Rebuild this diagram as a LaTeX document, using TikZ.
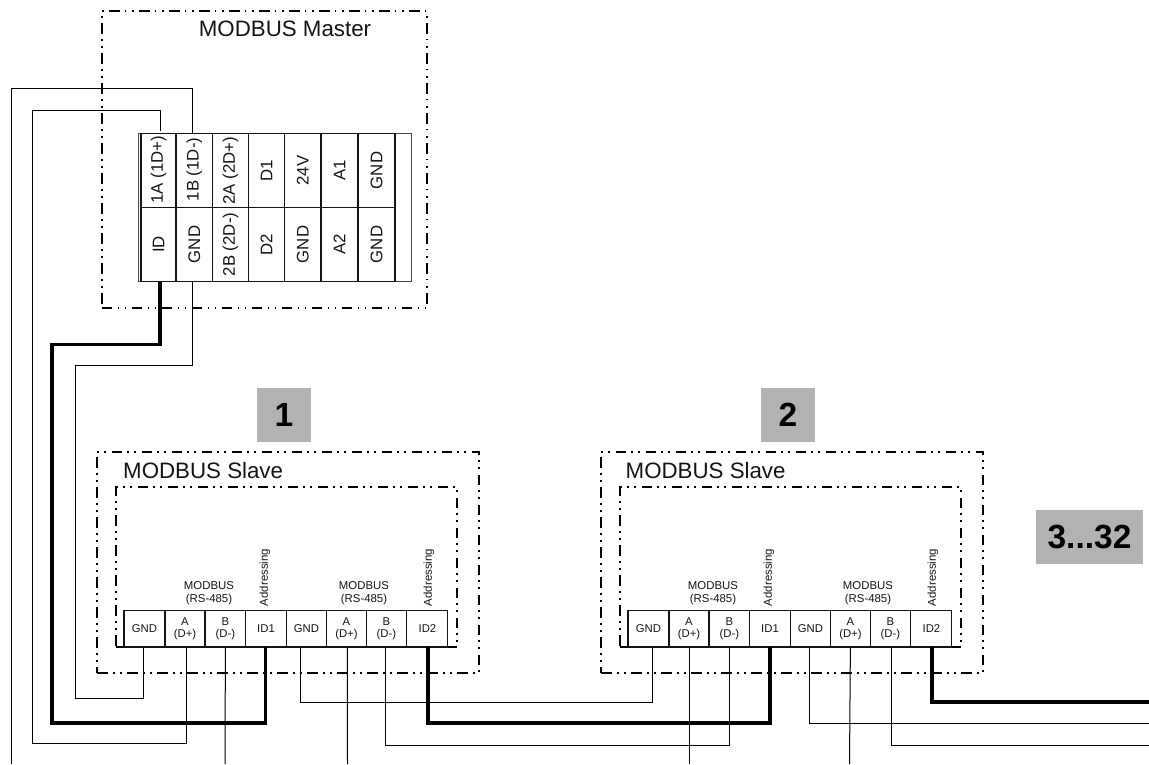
\documentclass[tikz,border=0pt]{standalone}
\usepackage{fontspec}
\usepackage{graphicx}
\setmainfont{Liberation Sans}
\definecolor{inkk}{HTML}{141414}
\definecolor{greybox}{HTML}{B2B2B2}
\definecolor{blockline}{HTML}{444444}
\tikzset{
  frameline/.style={draw=black,line width=2pt,dash pattern=on 10.5pt off 5.5pt on 1.6pt off 5.5pt on 1.6pt off 5.3pt,inner sep=0pt,outer sep=0pt},
  mcell/.style={draw=inkk,line width=1.1pt,inner sep=0pt,outer sep=0pt,minimum height=74pt,font=\fontsize{16.8}{16.8}\selectfont,text=inkk},
  scell/.style={draw=inkk,line width=1.1pt,inner sep=0pt,outer sep=0pt,minimum height=36.5pt,font=\fontsize{11.3}{12.8}\selectfont,align=center,text=inkk},
  small/.style={inner sep=0pt,font=\fontsize{11.4}{13}\selectfont,align=center,text=inkk},
  title/.style={inner sep=0pt,font=\fontsize{22.3}{24}\selectfont,text=inkk},
  badge/.style={fill=greybox,inner sep=0pt,font=\bfseries\fontsize{33.5}{33.5}\selectfont,text=black},
  wire/.style={draw=black,line width=1pt},
  buswire/.style={draw=black,line width=3.6pt,line cap=butt,line join=miter},
}
\newcommand{\rb}[1]{\rotatebox{90}{#1}}
\newcommand{\rbup}[1]{\raisebox{2pt}{\rotatebox{90}{#1}}}
\begin{document}
\begin{tikzpicture}[x=1pt,y=-1pt]
\useasboundingbox (0,0) rectangle (1149,764);
% frames
\node[frameline,minimum width=325.5pt,minimum height=297pt] (mframe) at (264.25,159.5) {};
\node[frameline,minimum width=382pt,minimum height=221pt] (s1outer) at (288,562.5) {};
\node[frameline,minimum width=341pt,minimum height=160pt] (s1inner) at (286.5,567) {};
\node[frameline,minimum width=382pt,minimum height=221pt] (s2outer) at (792,562.5) {};
\node[frameline,minimum width=341pt,minimum height=160pt] (s2inner) at (790.5,567) {};
% titles
\node[title,anchor=base] (mtitle) at (285,36) {MODBUS Master};
\node[title,anchor=base west] (s1title) at (123,478) {MODBUS Slave};
\node[title,anchor=base west] (s2title) at (625.5,478) {MODBUS Slave};
% badges
\node[badge,minimum width=54pt,minimum height=54pt] (b1) at (284,415) {1};
\node[badge,minimum width=54pt,minimum height=54pt] (b2) at (788,415) {2};
\node[badge,minimum width=107pt,minimum height=54pt] (b3) at (1089.5,537) {3...32};
% master block
\node[draw=blockline,line width=.8pt,inner sep=0pt,outer sep=0pt,minimum width=272.4pt,minimum height=148pt] (mblock) at (274.9,207.5) {};
\node[mcell,minimum width=35pt] (t1a) at (158.5,170.5) {\rbup{1A (1D+)}};
\node[mcell,minimum width=36.5pt] (t1b) at (194.25,170.5) {\rbup{1B (1D-)}};
\node[mcell,minimum width=36pt] (t2a) at (230.5,170.5) {\rb{2A (2D+)}};
\node[mcell,minimum width=36pt] (td1) at (266.5,170.5) {\rb{D1}};
\node[mcell,minimum width=36.5pt] (t24) at (302.75,170.5) {\rb{24V}};
\node[mcell,minimum width=37pt] (ta1) at (339.5,170.5) {\rb{A1}};
\node[mcell,minimum width=37pt] (tg1) at (376.5,170.5) {\rb{GND}};
\node[mcell,minimum width=35pt] (tid) at (158.5,244.5) {\rb{ID}};
\node[mcell,minimum width=36.5pt] (tgn) at (194.25,244.5) {\rb{GND}};
\node[mcell,minimum width=36pt] (t2b) at (230.5,244.5) {\rb{2B (2D-)}};
\node[mcell,minimum width=36pt] (td2) at (266.5,244.5) {\rb{D2}};
\node[mcell,minimum width=36.5pt] (tg2) at (302.75,244.5) {\rb{GND}};
\node[mcell,minimum width=37pt] (ta2) at (339.5,244.5) {\rb{A2}};
\node[mcell,minimum width=37pt] (tg3) at (376.5,244.5) {\rb{GND}};
% slave 1 terminals
\node[scell,minimum width=41pt] (ag1) at (144.5,628.75) {GND};
\node[scell,minimum width=40pt] (aa1) at (185,628.75) {A\\(D+)};
\node[scell,minimum width=40.5pt] (ab1) at (225.4,628.75) {B\\(D-)};
\node[scell,minimum width=40.5pt] (ai1) at (266,628.75) {ID1};
\node[scell,minimum width=40.5pt] (ag2) at (306.4,628.75) {GND};
\node[scell,minimum width=39.5pt] (aa2) at (346.4,628.75) {A\\(D+)};
\node[scell,minimum width=40.5pt] (ab2) at (386.4,628.75) {B\\(D-)};
\node[scell,minimum width=41pt] (ai2) at (427.4,628.75) {ID2};
\node[small] (am1) at (209,593.5) {MODBUS\\(RS-485)};
\node[small] (am2) at (364,593.5) {MODBUS\\(RS-485)};
\node[small,rotate=90] (ad1) at (265,577.5) {Addressing};
\node[small,rotate=90] (ad2) at (429,577.5) {Addressing};
% slave 2 terminals
\node[scell,minimum width=41pt] (bg1) at (648.5,628.75) {GND};
\node[scell,minimum width=40pt] (ba1) at (689,628.75) {A\\(D+)};
\node[scell,minimum width=40.5pt] (bb1) at (729.4,628.75) {B\\(D-)};
\node[scell,minimum width=40.5pt] (bi1) at (770,628.75) {ID1};
\node[scell,minimum width=40.5pt] (bg2) at (810.4,628.75) {GND};
\node[scell,minimum width=39.5pt] (ba2) at (850.4,628.75) {A\\(D+)};
\node[scell,minimum width=40.5pt] (bb2) at (890.4,628.75) {B\\(D-)};
\node[scell,minimum width=41pt] (bi2) at (931.4,628.75) {ID2};
\node[small] (bm1) at (713,593.5) {MODBUS\\(RS-485)};
\node[small] (bm2) at (868,593.5) {MODBUS\\(RS-485)};
\node[small,rotate=90] (bd1) at (769,577.5) {Addressing};
\node[small,rotate=90] (bd2) at (933,577.5) {Addressing};
% free ends
\coordinate (endL1) at (11,764);
\coordinate (endAb) at (225,764);
\coordinate (endAa) at (347.5,764);
\coordinate (endBa) at (689,764);
\coordinate (endBc) at (849.5,764);
\coordinate (rtop) at (1149,702);
\coordinate (rmid) at (1149,723);
\coordinate (rbot) at (1149,745);
% master to bus
\draw[wire] ([xshift=-2pt]t1b.north) -- ++(0,-45) -| (endL1);
\draw[wire] ([xshift=1.5pt,yshift=3pt]t1a.north) -- ++(0,-20) -| (32,743) -| ([xshift=1pt]aa1.south);
\draw[wire] ([xshift=-2pt]tgn.south) -- ++(0,84) -| (75,698) -| ([xshift=-1.5pt]ag1.south);
\draw[buswire] ([xshift=1.5pt]tid.south) -- ++(0,63) -| (52,723) -| ([xshift=-.5pt]ai1.south);
% slave 1 to bus
\draw[wire] (ab1.south) -- (endAb);
\draw[wire] ([xshift=1pt]aa2.south) -- (endAa);
\draw[wire] ([xshift=-6.4pt]ag2.south) -- ++(0,55) -| ([xshift=4pt]bg1.south);
\draw[wire] ([xshift=-1.4pt]ab2.south) -- ++(0,98) -| ([xshift=-.4pt]bb1.south);
\draw[buswire] ([xshift=.6pt]ai2.south) -- ++(0,76) -| (bi1.south);
% slave 2 to bus
\draw[wire] (ba1.south) -- (endBa);
\draw[wire] (ba2.south) -- (endBc);
\draw[wire] ([xshift=-1.4pt]bg2.south) |- (rmid);
\draw[wire] ([xshift=.6pt]bb2.south) |- (rbot);
\draw[buswire] ([xshift=.6pt]bi2.south) |- (rtop);
\end{tikzpicture}
\end{document}
